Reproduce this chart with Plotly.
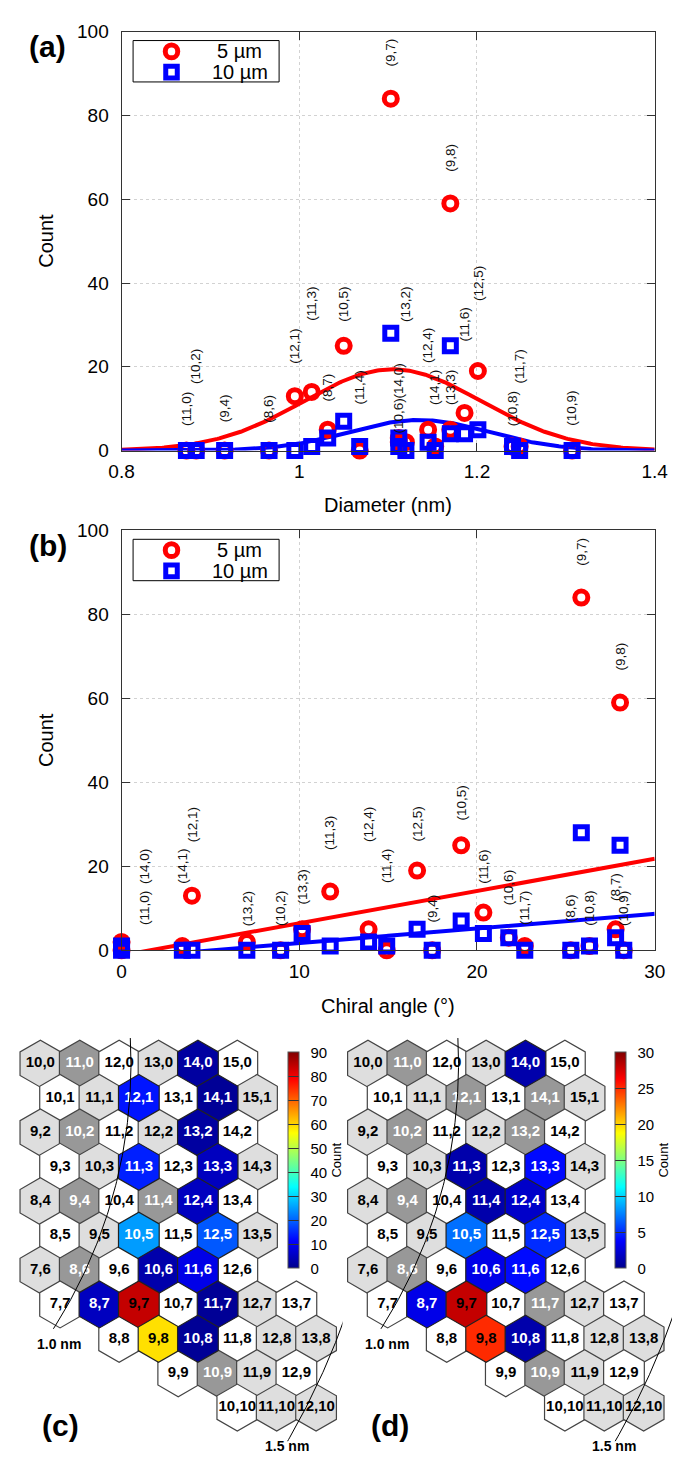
import numpy as np
import plotly.graph_objects as go

W, H = 686, 1464
FONT = "Liberation Sans, Arial, Helvetica, sans-serif"

# ---------------- data ----------------
chir_n = [11, 10, 9, 8, 12, 11, 8, 10, 11, 14, 10, 13, 9, 12, 14, 13, 9, 11, 12, 10, 11, 10]
chir_m = [0, 2, 4, 6, 1, 3, 7, 5, 4, 0, 6, 2, 7, 4, 1, 3, 8, 6, 5, 8, 7, 9]
diameter_nm = [0.873, 0.884, 0.916, 0.966, 0.995, 1.014, 1.032, 1.050, 1.068, 1.112, 1.112,
               1.120, 1.103, 1.145, 1.153, 1.170, 1.170, 1.186, 1.201, 1.240, 1.248, 1.307]
chiral_angle_deg = [0.0, 8.95, 17.48, 25.28, 3.96, 11.74, 27.80, 19.11, 14.92, 0.0, 21.79,
                    7.05, 25.87, 13.90, 3.42, 10.16, 28.05, 20.36, 16.63, 26.33, 22.69, 28.26]
count_5um = [0, 0, 0, 0, 13, 14, 5, 25, 0, 2, 3, 2, 84, 5, 1, 5, 59, 9, 19, 1, 1, 0]
count_10um = [0, 0, 0, 0, 0, 1, 3, 7, 1, 1, 3, 0, 28, 2, 0, 4, 25, 4, 5, 1, 0, 0]

# fitted curves
gauss_5um = dict(amp=19.4, mu=1.105, sigma=0.100)
gauss_10um = dict(amp=7.3, mu=1.135, sigma=0.079)
lin_5um = dict(a=-1.23, b=0.768)
lin_10um = dict(a=-1.78, b=0.349)

# chirality map cells, row by row (m = 0 .. 10)
hex_rows = [
    [(10, 0), (11, 0), (12, 0), (13, 0), (14, 0), (15, 0)],
    [(10, 1), (11, 1), (12, 1), (13, 1), (14, 1), (15, 1)],
    [(9, 2), (10, 2), (11, 2), (12, 2), (13, 2), (14, 2)],
    [(9, 3), (10, 3), (11, 3), (12, 3), (13, 3), (14, 3)],
    [(8, 4), (9, 4), (10, 4), (11, 4), (12, 4), (13, 4)],
    [(8, 5), (9, 5), (10, 5), (11, 5), (12, 5), (13, 5)],
    [(7, 6), (8, 6), (9, 6), (10, 6), (11, 6), (12, 6)],
    [(7, 7), (8, 7), (9, 7), (10, 7), (11, 7), (12, 7), (13, 7)],
    [(8, 8), (9, 8), (10, 8), (11, 8), (12, 8), (13, 8)],
    [(9, 9), (10, 9), (11, 9), (12, 9)],
    [(10, 10), (11, 10), (12, 10)],
]

# label heights (count units) of the (n,m) tags, layout only
tag_y_a = [10, 20, 10, 10, 25, 35, 15, 35, 15, 16.7, 8.3, 35, 95, 25, 15, 15, 70, 30, 40, 10, 20, 10]
tag_y_b = [10, 10, 10, 10, 30, 28, 15, 35, 20, 20, 15, 10, 95, 30, 20, 15, 70, 20, 30, 10, 10, 10]

RED = "rgb(255,0,0)"
BLUE = "rgb(0,0,255)"
JET = [[0.0, "rgb(0,0,140)"], [0.125, "rgb(0,0,255)"], [0.375, "rgb(0,255,255)"],
       [0.625, "rgb(255,255,0)"], [0.875, "rgb(255,0,0)"], [1.0, "rgb(128,0,0)"]]


def px_x(px):
    return px / W


def px_y(py):
    return 1 - py / H


fig = go.Figure()

# ---------------- panel (a) ----------------
xd = np.linspace(0.8, 1.4, 301)
for p, col in ((gauss_5um, RED), (gauss_10um, BLUE)):
    yd = p["amp"] * np.exp(-(xd - p["mu"]) ** 2 / (2 * p["sigma"] ** 2))
    fig.add_trace(go.Scatter(x=xd, y=yd, mode="lines", line=dict(color=col, width=4),
                             xaxis="x", yaxis="y", hoverinfo="skip"))

fig.add_trace(go.Scatter(x=diameter_nm, y=count_5um, mode="markers", name="5 µm",
                         marker=dict(symbol="circle-open", size=13, color=RED,
                                     line=dict(color=RED, width=5)),
                         cliponaxis=False, xaxis="x", yaxis="y"))
fig.add_trace(go.Scatter(x=diameter_nm, y=count_10um, mode="markers", name="10 µm",
                         marker=dict(symbol="square-open", size=12, color=BLUE,
                                     line=dict(color=BLUE, width=5)),
                         cliponaxis=False, xaxis="x", yaxis="y"))

# ---------------- panel (b) ----------------
xa = np.linspace(0, 30, 301)
for p, col in ((lin_5um, RED), (lin_10um, BLUE)):
    fig.add_trace(go.Scatter(x=xa, y=p["a"] + p["b"] * xa, mode="lines",
                             line=dict(color=col, width=4), xaxis="x2", yaxis="y2",
                             hoverinfo="skip"))
fig.add_trace(go.Scatter(x=chiral_angle_deg, y=count_5um, mode="markers", name="5 µm",
                         marker=dict(symbol="circle-open", size=13, color=RED,
                                     line=dict(color=RED, width=5)),
                         cliponaxis=False, xaxis="x2", yaxis="y2"))
fig.add_trace(go.Scatter(x=chiral_angle_deg, y=count_10um, mode="markers", name="10 µm",
                         marker=dict(symbol="square-open", size=12, color=BLUE,
                                     line=dict(color=BLUE, width=5)),
                         cliponaxis=False, xaxis="x2", yaxis="y2"))

# ---------------- hex maps (c), (d) ----------------
ROWF = 0.851  # row spacing relative to column spacing
LG, DG, WH = "rgb(222,222,222)", "rgb(152,152,152)", "white"


def hex_panel(counts, cmax, dtick, xa_name, ya_name, cb_x):
    bx, by, bc, bt, btc = [], [], [], [], []
    cx, cy, cc, ct, ctc = [], [], [], [], []
    pairs = list(zip(chir_n, chir_m))
    for row in hex_rows:
        for n, m in row:
            X = n + m / 2
            Y = m * ROWF
            lab = f"{n},{m}"
            if (n, m) in pairs:
                c = counts[pairs.index((n, m))]
                if c > 0:
                    cx.append(X); cy.append(Y); cc.append(c); ct.append(lab)
                    ctc.append("white" if c / cmax < 0.5 else "black")
                    continue
                col = DG
                tcol = "white"
            elif (n - m) % 3 == 0:
                col, tcol = WH, "black"
            else:
                col, tcol = LG, "black"
            bx.append(X); by.append(Y); bc.append(col); bt.append(lab); btc.append(tcol)
    tf = dict(family=FONT, size=15, weight="bold")
    fig.add_trace(go.Scatter(x=bx, y=by, mode="markers+text", text=bt,
                             textposition="middle center",
                             textfont=dict(tf, color=btc),
                             marker=dict(symbol="hexagon", size=47, color=bc,
                                         line=dict(color="#444", width=1.2)),
                             xaxis=xa_name, yaxis=ya_name, hoverinfo="skip",
                             cliponaxis=False))
    fig.add_trace(go.Scatter(x=cx, y=cy, mode="markers+text", text=ct,
                             textposition="middle center",
                             textfont=dict(tf, color=ctc),
                             marker=dict(symbol="hexagon", size=47, color=cc,
                                         colorscale=JET, cmin=0, cmax=cmax,
                                         line=dict(color="#222", width=1.2),
                                         showscale=True,
                                         colorbar=dict(
                                             x=cb_x, xanchor="left", xpad=0, ypad=0,
                                             y=px_y(1167), yanchor="middle",
                                             thickness=11, lenmode="pixels", len=216,
                                             outlinecolor="#555", outlinewidth=1,
                                             tickmode="linear", tick0=0, dtick=dtick,
                                             ticks="inside", ticklen=11, tickcolor="#333",
                                             tickprefix="\u2002",
                                             tickfont=dict(family=FONT, size=15, color="black"),
                                             title=dict(text="Count", side="right",
                                                        font=dict(family=FONT, size=13,
                                                                  color="black")))),
                             xaxis=xa_name, yaxis=ya_name, hoverinfo="skip",
                             cliponaxis=False))
    # iso-diameter guide arcs (1.0 nm and 1.5 nm)
    k = (np.sqrt(3) / 2) / ROWF
    for R, y0, y1 in ((12.3, (1043 - 1069) / 41, (1338 - 1069) / 41),
                      (18.85, (1318 - 1069) / 41, (1452 - 1069) / 41)):
        yy = np.linspace(y0, y1, 80)
        xx = np.sqrt(R ** 2 - (yy * k) ** 2)
        fig.add_trace(go.Scatter(x=xx, y=yy, mode="lines", line=dict(color="black", width=1),
                                 xaxis=xa_name, yaxis=ya_name, hoverinfo="skip"))


hex_panel(count_5um, 90, 10, "x3", "y3", px_x(286))
hex_panel(count_10um, 30, 5, "x4", "y4", px_x(627))

# ---------------- layout ----------------
axis_common = dict(showline=True, linecolor="#333", linewidth=1, mirror="ticks",
                   ticks="inside", ticklen=8, tickcolor="#333",
                   showgrid=True, gridcolor="#d2d2d2", griddash="dot", gridwidth=1,
                   zeroline=False, tickfont=dict(family=FONT, size=19, color="black"))

hex_yrange = [(H - 1069) / 41, (1030 - 1069) / 41]

fig.update_layout(
    width=W, height=H, margin=dict(l=0, r=0, t=0, b=0),
    paper_bgcolor="white", plot_bgcolor="white", showlegend=False,
    xaxis=dict(axis_common, domain=[px_x(113), px_x(668)], range=[0.8, 1.4], dtick=0.2,
               tick0=0.8, anchor="y", ticklabelstandoff=4),
    yaxis=dict(axis_common, domain=[px_y(447), px_y(22)], range=[0, 100], dtick=20,
               anchor="x", ticklabelstandoff=8),
    xaxis2=dict(axis_common, domain=[px_x(113), px_x(668)], range=[0, 30], dtick=10,
                anchor="y2", ticklabelstandoff=4),
    yaxis2=dict(axis_common, domain=[px_y(954), px_y(528)], range=[0, 100], dtick=20,
                anchor="x2", ticklabelstandoff=8),
    xaxis3=dict(domain=[0, px_x(343)], range=[10 - 28.5 / 41, 10 + (343 - 28.5) / 41],
                visible=False, anchor="y3"),
    yaxis3=dict(domain=[0, px_y(1030)], range=hex_yrange, visible=False, anchor="x3"),
    xaxis4=dict(domain=[px_x(343), 1], range=[10 - (369.5 - 343) / 41, 10 + (686 - 369.5) / 41],
                visible=False, anchor="y4"),
    yaxis4=dict(domain=[0, px_y(1030)], range=hex_yrange, visible=False, anchor="x4"),
)

ann = []
# (n,m) tags
for i in range(len(chir_n)):
    tag = f"({chir_n[i]},{chir_m[i]})"
    ann.append(dict(x=diameter_nm[i], y=tag_y_a[i], xref="x", yref="y", text=tag,
                    textangle=-90, showarrow=False, xanchor="center", yanchor="middle",
                    font=dict(family=FONT, size=13.5, color="#111")))
    xb = chiral_angle_deg[i] if chiral_angle_deg[i] > 0 else 1.3
    ann.append(dict(x=xb, y=tag_y_b[i], xref="x2", yref="y2", text=tag,
                    textangle=-90, showarrow=False, xanchor="center", yanchor="middle",
                    font=dict(family=FONT, size=13.5, color="#111")))


def paper_text(px, py, text, size, bold=False, angle=0, xanchor="center"):
    ann.append(dict(x=px_x(px), y=px_y(py), xref="paper", yref="paper",
                    text=f"<b>{text}</b>" if bold else text, showarrow=False,
                    textangle=angle, xanchor=xanchor, yanchor="middle",
                    font=dict(family=FONT, size=size, color="black")))


# axis titles
paper_text(35, 234.5, "Count", 20, angle=-90)
paper_text(390.5, 502, "Diameter (nm)", 20)
paper_text(35, 741, "Count", 20, angle=-90)
paper_text(390.5, 1010, "Chiral angle (°)", 20)
# panel letters
paper_text(36, 37, "(a)", 30, bold=True)
paper_text(36, 543, "(b)", 30, bold=True)
paper_text(49, 1436, "(c)", 30, bold=True)
paper_text(392, 1436, "(d)", 30, bold=True)
# diameter guide labels
for dx in (0, 341):
    paper_text(48 + dx, 1353, "1.0 nm", 14, bold=True)
    paper_text(285 + dx, 1457, "1.5 nm", 14, bold=True)

# legends (boxes with symbols and labels)
shapes = []
for top in (31, 537):
    shapes.append(dict(type="rect", xref="paper", yref="paper",
                       x0=px_x(125), x1=px_x(277), y0=px_y(top + 42), y1=px_y(top),
                       line=dict(color="black", width=1), fillcolor="white", layer="above"))
    cy1, cy2 = top + 11, top + 32
    shapes.append(dict(type="circle", xref="paper", yref="paper",
                       x0=px_x(158.5), x1=px_x(171.5), y0=px_y(cy1 + 6.5), y1=px_y(cy1 - 6.5),
                       line=dict(color=RED, width=5), layer="above"))
    shapes.append(dict(type="rect", xref="paper", yref="paper",
                       x0=px_x(159), x1=px_x(171), y0=px_y(cy2 + 6), y1=px_y(cy2 - 6),
                       line=dict(color=BLUE, width=5), layer="above"))
    paper_text(236, cy1, "5 µm", 20)
    paper_text(236, cy2, "10 µm", 20)

fig.update_layout(annotations=ann, shapes=shapes)

fig.write_html("out.html", post_script="document.body.style.margin='0';")
